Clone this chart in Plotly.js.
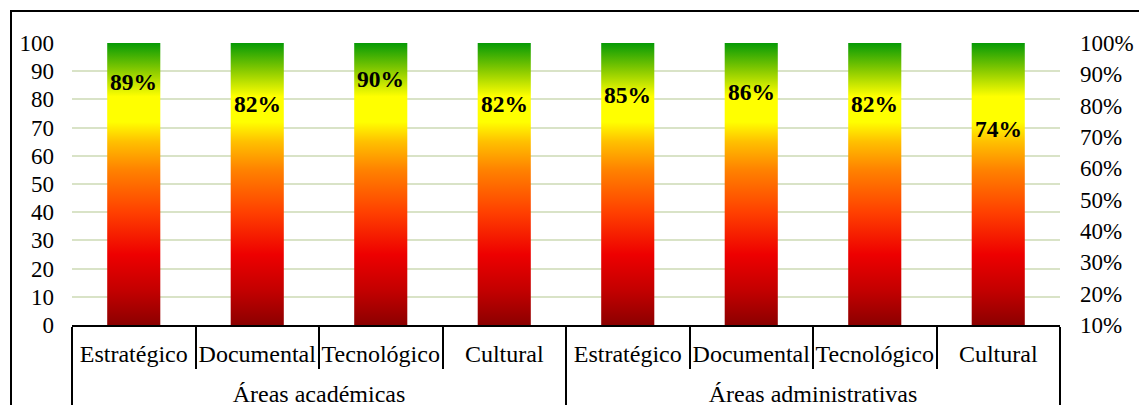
<!DOCTYPE html>
<html>
<head>
<meta charset="utf-8">
<script src="https://cdn.plot.ly/plotly-3.0.1.min.js"></script>
<style>
  html, body { margin: 0; padding: 0; background: #fff; overflow: hidden; }
  #chart { position: absolute; left: 0; top: 0; width: 1139px; height: 440px; }
  #frame { position: absolute; left: 10px; top: 10px; width: 1400px; height: 600px;
           border-left: 2px solid #000; border-top: 2px solid #000; pointer-events: none; z-index: 5; }
</style>
</head>
<body>
<div id="chart"></div>
<div id="frame"></div>
<script>
// Evaluation areas (outer level) and dimensions (inner level)
const groups = ['Áreas académicas', 'Áreas académicas', 'Áreas académicas', 'Áreas académicas',
                'Áreas administrativas', 'Áreas administrativas', 'Áreas administrativas', 'Áreas administrativas'];
const dimensions = ['Estratégico', 'Documental', 'Tecnológico', 'Cultural',
                    'Estratégico', 'Documental', 'Tecnológico', 'Cultural'];
// Full scale of each column (left axis)
const scale = [100, 100, 100, 100, 100, 100, 100, 100];
// Achieved level per dimension, in percent (right axis)
const levels = [89, 82, 90, 82, 85, 86, 82, 74];

const serif = '"Liberation Serif"';

const traces = [
  {
    type: 'bar',
    x: [groups, dimensions],
    y: scale,
    marker: { color: '#ff0000', line: { width: 0 } },
    hoverinfo: 'skip',
    showlegend: false
  },
  {
    type: 'scatter',
    mode: 'markers',
    x: [groups, dimensions],
    y: levels,
    yaxis: 'y2',
    marker: { size: 1, opacity: 0 },
    hoverinfo: 'skip',
    showlegend: false
  }
];

const annotations = levels.map((v, i) => ({
  xref: 'x', yref: 'y2',
  x: i, y: v,
  text: v + '%',
  showarrow: false,
  yanchor: 'middle',
  yshift: -5,
  font: { family: serif, size: 23.5, color: '#000', weight: 'bold' }
}));

const layout = {
  width: 1139, height: 440,
  margin: { l: 72, r: 79, t: 43, b: 115 },
  paper_bgcolor: '#fff',
  plot_bgcolor: '#fff',
  bargap: 0.57,
  font: { family: serif, size: 23, color: '#000' },
  xaxis: {
    type: 'multicategory',
    tickangle: 0,
    showline: true, linecolor: '#000', linewidth: 2,
    ticks: 'outside', tickson: 'boundaries', ticklen: 42, tickwidth: 2, tickcolor: '#000',
    ticklabelstandoff: 6,
    showdividers: true, dividercolor: '#000', dividerwidth: 2,
    showgrid: false, zeroline: false,
    tickfont: { family: serif, size: 24, color: '#000' }
  },
  yaxis: {
    range: [0, 100], dtick: 10, tick0: 0,
    showgrid: true, gridcolor: '#d9e3c7', gridwidth: 2,
    zeroline: false, showline: false, ticks: '',
    ticklabelstandoff: 17,
    tickfont: { family: serif, size: 23, color: '#000' }
  },
  yaxis2: {
    overlaying: 'y', side: 'right',
    range: [10, 100], dtick: 10, tick0: 10,
    ticksuffix: '%',
    showgrid: false, zeroline: false, showline: false, ticks: '',
    ticklabelstandoff: 19,
    tickfont: { family: serif, size: 23, color: '#000' }
  },
  annotations: annotations
};

// Vertical colour ramp for the columns: dark red at 0 up to green at 100
const rampStops = [
  [0.00, '#8c0000'],
  [0.12, '#c20000'],
  [0.25, '#ee0000'],
  [0.40, '#ff4000'],
  [0.55, '#ff8200'],
  [0.65, '#ffc000'],
  [0.72, '#ffff00'],
  [0.81, '#ffff00'],
  [0.90, '#8ccc00'],
  [1.00, '#069a06']
];

// Extra room between the dimension row and the area row
const groupRowDrop = 18;
const dividerExtra = 40;

function styleChart(gd) {
  const svg = gd.querySelector('svg.main-svg');
  if (!svg) return;
  const NS = 'http://www.w3.org/2000/svg';
  let defs = svg.querySelector('defs');
  if (!defs) { defs = document.createElementNS(NS, 'defs'); svg.insertBefore(defs, svg.firstChild); }
  if (!svg.querySelector('#columnRamp')) {
    const g = document.createElementNS(NS, 'linearGradient');
    g.setAttribute('id', 'columnRamp');
    g.setAttribute('x1', '0'); g.setAttribute('y1', '1');
    g.setAttribute('x2', '0'); g.setAttribute('y2', '0');
    rampStops.forEach(([o, c]) => {
      const s = document.createElementNS(NS, 'stop');
      s.setAttribute('offset', o);
      s.setAttribute('stop-color', c);
      g.appendChild(s);
    });
    defs.appendChild(g);
  }
  gd.querySelectorAll('.barlayer .point path').forEach(p => {
    p.style.fill = 'url(#columnRamp)';
    p.style.fillOpacity = 1;
  });

  // lower the area labels and lengthen the area dividers
  gd.querySelectorAll('g.xtick2 text').forEach(t => {
    if (t.dataset.dropped) return;
    t.dataset.dropped = '1';
    const tr = t.getAttribute('transform') || '';
    t.setAttribute('transform', tr + ' translate(0,' + groupRowDrop + ')');
  });
  gd.querySelectorAll('path.xdivider').forEach(p => {
    if (p.dataset.extended) return;
    p.dataset.extended = '1';
    const d = p.getAttribute('d') || '';
    p.setAttribute('d', d.replace(/v(-?[\d.]+)/, (m, n) => 'v' + (parseFloat(n) + dividerExtra)));
  });
}

const gd = document.getElementById('chart');
Plotly.newPlot(gd, traces, layout, { staticPlot: true, displayModeBar: false }).then(() => {
  styleChart(gd);
  gd.on('plotly_afterplot', () => styleChart(gd));
});
</script>
</body>
</html>
